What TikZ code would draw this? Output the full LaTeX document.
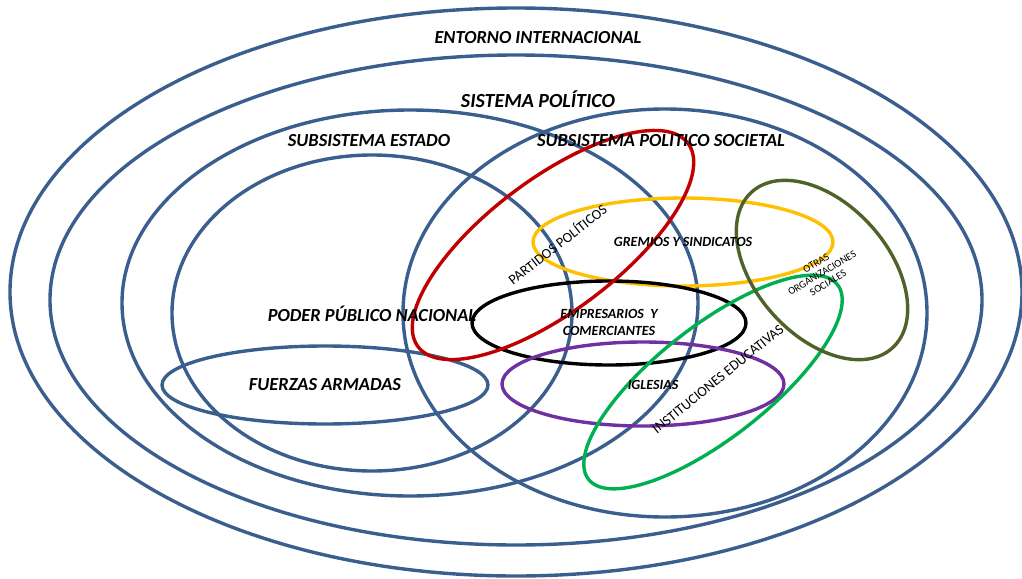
\documentclass[tikz,border=0pt]{standalone}
\usepackage{fontspec}
\setmainfont{Carlito}
\definecolor{azul}{RGB}{58,95,142}
\definecolor{rojo}{RGB}{192,0,0}
\definecolor{amarillo}{RGB}{255,192,0}
\definecolor{morado}{RGB}{112,48,160}
\definecolor{verde}{RGB}{0,176,80}
\definecolor{oliva}{RGB}{79,98,40}

\begin{document}
\begin{tikzpicture}[x=1pt, y=-1pt,
    anillo/.style={draw=azul, line width=3.4pt},
    grupo/.style={line width=3.4pt},
    titulo/.style={font=\fontsize{18.4}{22}\selectfont\bfseries\itshape, inner sep=0pt},
    rotulo/.style={font=\fontsize{14}{17}\selectfont\bfseries\itshape, inner sep=0pt, align=center},
    oblicuo/.style={font=\fontsize{14.2}{16}\selectfont, inner sep=0pt}
  ]
    \useasboundingbox (0,0) rectangle (1022,578);

    % anillos del sistema
    \draw[anillo] (516,292) ellipse [x radius=506, y radius=284];
    \draw[anillo] (516,300) ellipse [x radius=466, y radius=245];
    \draw[anillo] (410,303) ellipse [x radius=288, y radius=193];
    \draw[anillo] (372,313) ellipse [x radius=200, y radius=158];
    \draw[anillo] (665,313) ellipse [x radius=262, y radius=204];
    \draw[anillo] (325,385) ellipse [x radius=163, y radius=39];

    % grupos del subsistema societal
    \draw[grupo, amarillo] (683,242) ellipse [x radius=150, y radius=44];
    \draw[grupo, black] (609,323) ellipse [x radius=137, y radius=42];
    \draw[grupo, morado] (643,384) ellipse [x radius=141, y radius=42];
    \draw[grupo, rojo, rotate around={37:(553,245)}] (553,245) ellipse [x radius=169, y radius=66];
    \draw[grupo, verde, rotate around={38:(713,382)}] (713,382) ellipse [x radius=158, y radius=56];
    \draw[grupo, oliva, rotate around={-48:(822,270)}] (822,270) ellipse [x radius=105, y radius=66];

    \node[titulo] (entorno) at (538,38) {ENTORNO INTERNACIONAL};
    \node[titulo, font=\fontsize{20}{24}\selectfont\bfseries\itshape] (sistema) at (538,99) {SISTEMA POLÍTICO};
    \node[titulo] (estado) at (369,141) {SUBSISTEMA ESTADO};
    \node[titulo] (societal) at (661,141) {SUBSISTEMA POLITICO SOCIETAL};
    \node[titulo] (poder) at (372,314) {PODER PÚBLICO NACIONAL};
    \node[titulo] (fuerzas) at (325,385) {FUERZAS ARMADAS};

    \node[rotulo] (gremios) at (683,242) {GREMIOS Y SINDICATOS};
    \node[rotulo] (empresarios) at (609,322) {EMPRESARIOS\ \ Y\\COMERCIANTES};
    \node[rotulo] (iglesias) at (653,385) {IGLESIAS};

    \node[oblicuo, rotate=38] (partidos) at (557,244) {PARTIDOS POLÍTICOS};
    \node[oblicuo, rotate=39] (educativas) at (718,379) {INSTITUCIONES EDUCATIVAS};
    \node[font=\fontsize{10.5}{11.5}\selectfont, inner sep=0pt, align=center, rotate=31] (otras) at (822,273) {OTRAS\\ORGANIZACIONES\\SOCIALES};
\end{tikzpicture}
\end{document}
